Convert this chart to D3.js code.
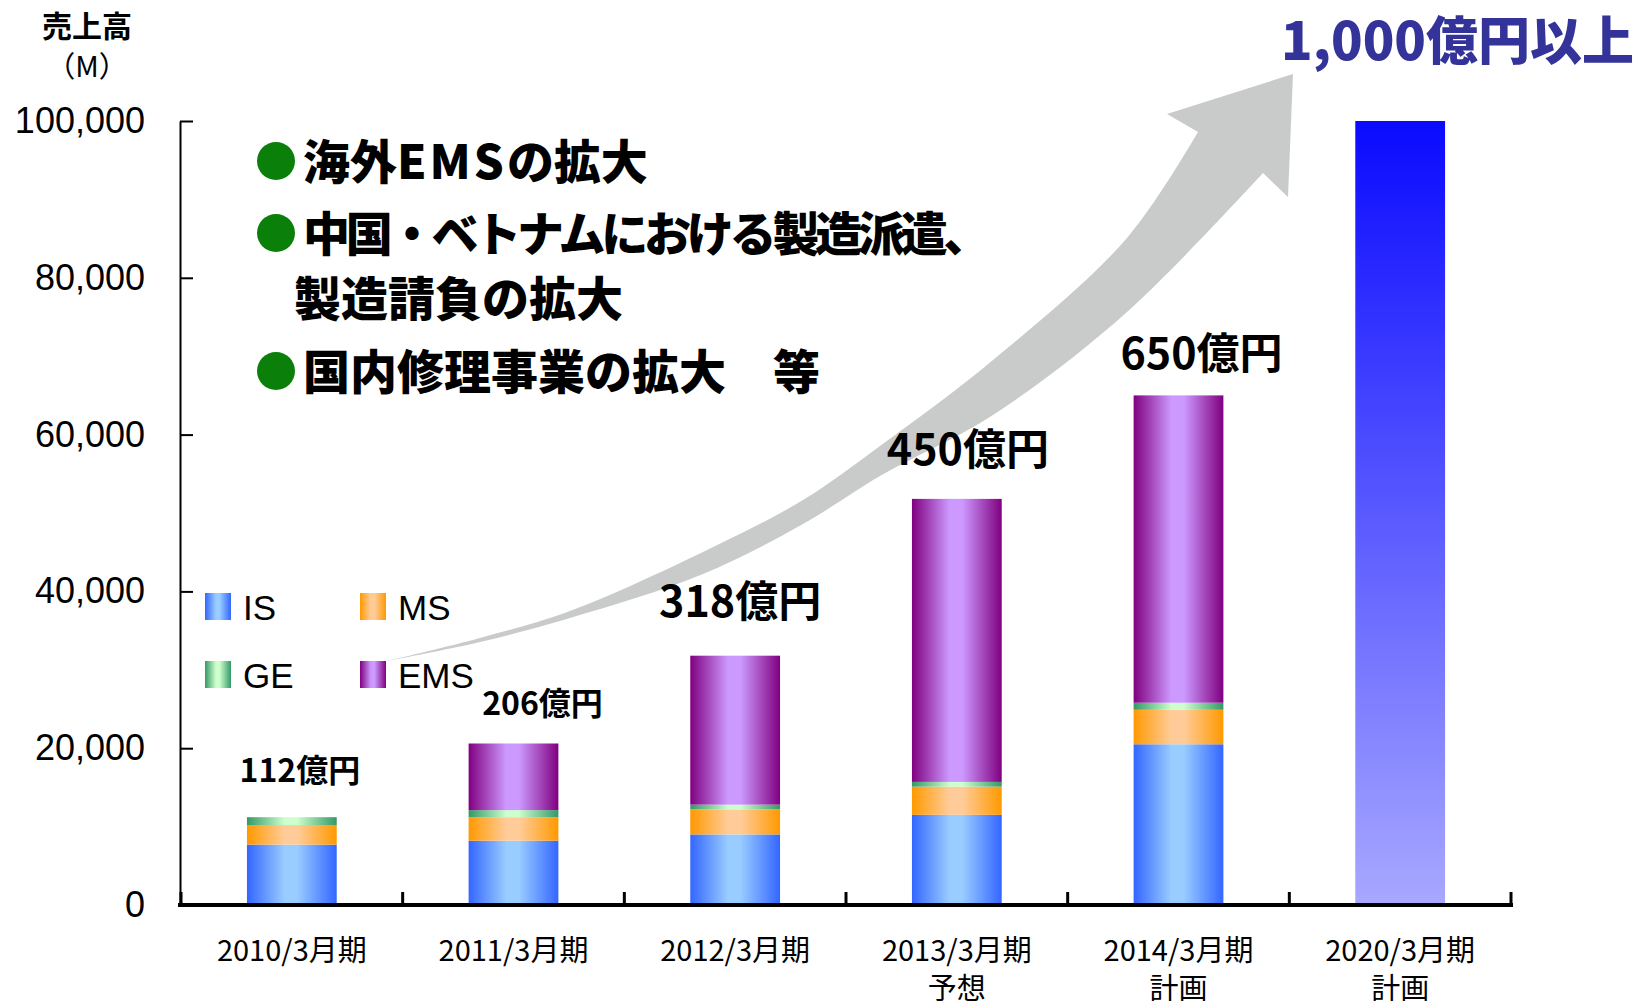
<!DOCTYPE html>
<html>
<head>
<meta charset="utf-8">
<script src="https://cdn.jsdelivr.net/npm/d3@7"></script>
<style>
  html, body { margin: 0; padding: 0; background: #ffffff; }
  svg { display: block; }
</style>
</head>
<body>
<script>
// ---------------- data ----------------
const categories = ["2010/3月期", "2011/3月期", "2012/3月期", "2013/3月期", "2014/3月期", "2020/3月期"];
const subLabels  = ["", "", "", "予想", "計画", "計画"];
const seriesKeys = ["IS", "MS", "GE", "EMS"];
const IS   = [7700, 8200, 9000, 11500, 20500, 0];
const MS   = [2500, 3000, 3200, 3600, 4400, 0];
const GE   = [1000,  900,  600,   600,   900, 0];
const EMS  = [   0, 8500, 19000, 36100, 39200, 0];
const planTotal = [0, 0, 0, 0, 0, 100000];
const totalLabels = ["112億円", "206億円", "318億円", "450億円", "650億円", ""];
const yTicks = [0, 20000, 40000, 60000, 80000, 100000];
const bullets = ["海外EMSの拡大", "中国・ベトナムにおける製造派遣、", "製造請負の拡大", "国内修理事業の拡大　等"];
const targetLabel = "1,000億円以上";
const yTitle = ["売上高", "（M）"];

// ---------------- layout (not data) ----------------
const W = 1648, H = 1001;
const labelDx = [8, 29, 5, 11, 23];
const labelGap = [35, 28, 39, 34, 26];

const svg = d3.select("body").append("svg").attr("width", W).attr("height", H)
  .style("background", "#fff");

const x = d3.scaleBand().domain(categories).range([181, 1511]).paddingInner(0).paddingOuter(0);
const y = d3.scaleLinear().domain([0, 100000]).range([905, 121]);
const barW = x.bandwidth() * 0.405;

const defs = svg.append("defs");
function hGrad(id, edge, mid) {
  const g = defs.append("linearGradient").attr("id", id)
    .attr("x1", 0).attr("x2", 1).attr("y1", 0).attr("y2", 0);
  g.append("stop").attr("offset", 0).attr("stop-color", edge);
  g.append("stop").attr("offset", 0.42).attr("stop-color", mid);
  g.append("stop").attr("offset", 0.56).attr("stop-color", mid);
  g.append("stop").attr("offset", 1).attr("stop-color", edge);
}
hGrad("g-IS", "#3366ff", "#99ccff");
hGrad("g-MS", "#ff9900", "#ffcc99");
hGrad("g-GE", "#339966", "#ccffcc");
hGrad("g-EMS", "#800080", "#cc99ff");
const vg = defs.append("linearGradient").attr("id", "g-plan")
  .attr("x1", 0).attr("x2", 0).attr("y1", 0).attr("y2", 1);
vg.append("stop").attr("offset", 0).attr("stop-color", "#0a0aff");
vg.append("stop").attr("offset", 1).attr("stop-color", "#a8a8ff");

// ---------------- arrow (decoration) ----------------
const upper = [[387,661],[480,638],[570,611],[703,552],[803,500],[880,446],[993,360],[1127,238],[1198,132]];
const lower = [[1263,173],[1127,312],[993,415],[880,476],[803,524],[703,574],[570,618],[480,642],[387,661]];
const curve = d3.line().curve(d3.curveCatmullRom.alpha(0.5));
const upperD = curve(upper);
const lowerD = curve(lower);
svg.append("path")
  .attr("d", upperD + " L1167,114 L1293,74 L1288,197 L1263,173 " + lowerD.replace(/^M[0-9.,\-]+/, "") + " Z")
  .attr("fill", "#c9caca");

// ---------------- axes ----------------
const yAxis = d3.axisLeft(y).tickValues(yTicks).tickSizeInner(-13).tickSizeOuter(0)
  .tickPadding(35).tickFormat(d3.format(","));
const gy = svg.append("g").attr("transform", "translate(180,0)").call(yAxis);
gy.select(".domain").attr("stroke", "#000").attr("stroke-width", 2);
gy.selectAll(".tick line").attr("stroke", "#000").attr("stroke-width", 2);
gy.selectAll(".tick text").attr("fill", "#000")
  .style("font-family", "'Liberation Sans', Arial, sans-serif").style("font-size", "36px");

// ---------------- bars ----------------
const rows = categories.map((c, i) => ({ cat: c, IS: IS[i], MS: MS[i], GE: GE[i], EMS: EMS[i], plan: planTotal[i] }));
const stacked = d3.stack().keys(seriesKeys)(rows);
const gBars = svg.append("g");
stacked.forEach(s => {
  gBars.selectAll(null).data(s.filter(d => d[1] > d[0])).enter().append("rect")
    .attr("x", d => x(d.data.cat) + (x.bandwidth() - barW) / 2)
    .attr("width", barW)
    .attr("y", d => y(d[1]))
    .attr("height", d => y(d[0]) - y(d[1]))
    .attr("fill", `url(#g-${s.key})`);
});
gBars.selectAll(null).data(rows.filter(d => d.plan > 0)).enter().append("rect")
  .attr("x", d => x(d.cat) + (x.bandwidth() - barW) / 2)
  .attr("width", barW)
  .attr("y", d => y(d.plan))
  .attr("height", d => y(0) - y(d.plan))
  .attr("fill", "url(#g-plan)");

// x axis line + boundary ticks
svg.append("line").attr("x1", 178).attr("x2", 1513).attr("y1", y(0)).attr("y2", y(0))
  .attr("stroke", "#000").attr("stroke-width", 4);
const bounds = categories.map(c => x(c)).concat([x.range()[1]]);
svg.selectAll(null).data(bounds).enter().append("line")
  .attr("x1", d => d).attr("x2", d => d).attr("y1", y(0)).attr("y2", y(0) - 13)
  .attr("stroke", "#000").attr("stroke-width", 3);

// x labels
const xl = svg.append("g").style("font-family", "'Noto Sans CJK JP', sans-serif").style("font-size", "29px")
  .attr("fill", "#000").attr("text-anchor", "middle");
categories.forEach((c, i) => {
  const cx = x(c) + x.bandwidth() / 2;
  xl.append("text").attr("x", cx).attr("y", 961).text(c);
  if (subLabels[i]) xl.append("text").attr("x", cx).attr("y", 999).text(subLabels[i]);
});

// total labels
const stackTop = rows.map(d => d.IS + d.MS + d.GE + d.EMS);
totalLabels.forEach((t, i) => {
  if (!t) return;
  const big = i >= 2;
  svg.append("text")
    .attr("x", x(categories[i]) + x.bandwidth() / 2 + labelDx[i])
    .attr("y", y(stackTop[i]) - labelGap[i])
    .attr("text-anchor", "middle")
    .style("font-family", "'Noto Sans CJK JP', sans-serif")
    .style("font-weight", 700)
    .style("font-size", big ? "43px" : "32px")
    .attr("fill", "#000")
    .text(t);
});

// ---------------- legend ----------------
const legendPos = { IS: [205, 593], MS: [360, 593], GE: [205, 661], EMS: [360, 661] };
seriesKeys.forEach(k => {
  const [lx, ly] = legendPos[k];
  svg.append("rect").attr("x", lx).attr("y", ly).attr("width", 26).attr("height", 27)
    .attr("fill", `url(#g-${k})`);
  svg.append("text").attr("x", lx + 38).attr("y", ly + 27)
    .style("font-family", "'Liberation Sans', Arial, sans-serif").style("font-size", "35px")
    .attr("fill", "#000").text(k);
});

// ---------------- titles ----------------
svg.append("text").attr("x", 87).attr("y", 37).attr("text-anchor", "middle")
  .style("font-family", "'Noto Sans CJK JP', sans-serif").style("font-weight", 700).style("font-size", "30px")
  .text(yTitle[0]);
svg.append("text").attr("x", 87).attr("y", 77).attr("text-anchor", "middle")
  .style("font-family", "'Noto Sans CJK JP', sans-serif").style("font-size", "29px")
  .text(yTitle[1]);

svg.append("text").attr("x", 1634).attr("y", 60).attr("text-anchor", "end")
  .style("font-family", "'Noto Sans CJK JP', sans-serif").style("font-weight", 900).style("font-size", "52px")
  .attr("fill", "#333399").text(targetLabel);

// ---------------- bullet text ----------------
const bulletLines = [
  { text: bullets[0], dot: true,  x: 303, y: 179, ls: 0 },
  { text: bullets[1], dot: true,  x: 303, y: 251, ls: -4.2 },
  { text: bullets[2], dot: false, x: 294, y: 316, ls: 0 },
  { text: bullets[3], dot: true,  x: 303, y: 389, ls: 0 }
];
bulletLines.forEach(b => {
  if (b.dot) svg.append("circle").attr("cx", 276).attr("cy", b.y - 18).attr("r", 19).attr("fill", "#0a800a");
  const t = svg.append("text").attr("x", b.x).attr("y", b.y)
    .style("font-family", "'Noto Sans CJK JP', sans-serif").style("font-weight", 900).style("font-size", "47px")
    .style("letter-spacing", b.ls + "px").attr("fill", "#000");
  if (b.text.includes("EMS")) {
    const parts = b.text.split("EMS");
    t.append("tspan").text(parts[0]);
    t.append("tspan").style("letter-spacing", "3px").text("EMS");
    t.append("tspan").text(parts[1]);
  } else {
    t.text(b.text);
  }
});
</script>
</body>
</html>
